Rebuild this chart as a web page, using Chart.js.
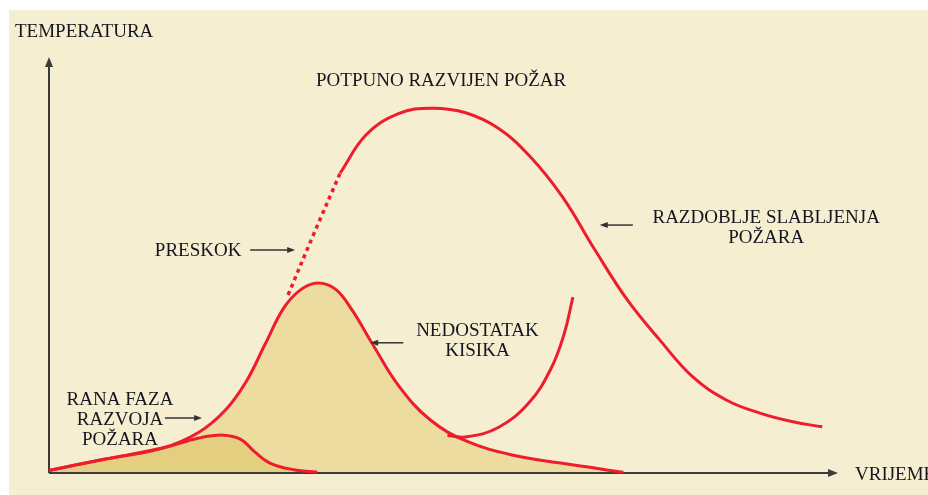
<!DOCTYPE html>
<html>
<head>
<meta charset="utf-8">
<script src="https://cdn.jsdelivr.net/npm/chart.js@4.4.1/dist/chart.umd.min.js"></script>
<style>
html, body { margin: 0; padding: 0; background: #fff; }
</style>
</head>
<body>
<canvas id="fire-chart" width="928" height="495"></canvas>
<script>
// vrijeme (0-100) / temperatura (0-100), schematic
var smallHumpTime = [0, 7, 14.4, 19.0, 22.1, 24.3, 26.0, 28.0, 31.0, 34.0];
var smallHumpTemp = [0.6, 3.3, 6.0, 8.4, 9.1, 8.1, 5.2, 2.4, 0.8, 0.2];

var humpTime = [0, 7, 14.4, 19.0, 22.3, 25.0, 27.4, 29.8, 32.0, 34.1, 36.3, 38.4, 41.0, 44.3, 48.3, 53.0, 59.0, 65.5, 72.8];
var humpTemp = [0.6, 3.3, 6.0, 9.8, 15.0, 22.0, 31.0, 39.8, 44.2, 45.7, 44.2, 39.2, 31.0, 21.0, 12.8, 7.6, 4.2, 2.2, 0.2];

var flashoverTime = [30.3, 33.5, 36.9];
var flashoverTemp = [42.8, 57.2, 72.1];

var fullFireTime = [36.9, 40.2, 44.3, 48.5, 52.8, 57.0, 61.0, 65.1, 69.2, 73.3, 77.4, 81.6, 85.9, 90.1, 94.3, 98.0];
var fullFireTemp = [72.1, 81.3, 86.4, 87.7, 86.6, 82.8, 76.0, 66.3, 53.6, 41.6, 32.0, 23.1, 17.5, 14.4, 12.3, 11.1];

var reigniteTime = [50.5, 53.0, 57.0, 60.8, 63.6, 65.3, 66.4];
var reigniteTemp = [9.0, 8.7, 11.0, 16.8, 25.0, 33.5, 42.3];

var labels = [
    { lines: ['POTPUNO RAZVIJEN POŽAR'], t: 49.7, T: 94.2 },
    { lines: ['RAZDOBLJE SLABLJENJA', 'POŽARA'], t: 90.9, T: 61.3 },
    { lines: ['PRESKOK'], t: 18.9, T: 53.4 },
    { lines: ['NEDOSTATAK', 'KISIKA'], t: 54.3, T: 34.1 },
    { lines: ['RANA FAZA', 'RAZVOJA', 'POŽARA'], t: 9.0, T: 17.5 }
];

var arrows = [
    { from: [74.0, 59.6], to: [69.8, 59.6] },
    { from: [25.5, 53.6], to: [31.2, 53.6] },
    { from: [44.9, 31.3], to: [40.7, 31.3] },
    { from: [14.7, 13.2], to: [19.4, 13.2] }
];

function points(xs, ys) {
    return xs.map(function (x, i) { return { x: x, y: ys[i] }; });
}

const red = '#ee1d2e';
const ink = '#15151f';
const font = '19px "Liberation Serif", "DejaVu Serif", serif';

function arrowHead(ctx, x, y, dx, dy, len, half) {
    ctx.beginPath();
    ctx.moveTo(x, y);
    ctx.lineTo(x - dx * len - dy * half, y - dy * len + dx * half);
    ctx.lineTo(x - dx * len + dy * half, y - dy * len - dx * half);
    ctx.closePath();
    ctx.fill();
}

const backdrop = {
    id: 'backdrop',
    beforeDraw(chart) {
        const ctx = chart.ctx;
        ctx.save();
        ctx.fillStyle = '#ffffff';
        ctx.fillRect(0, 0, chart.width, chart.height);
        ctx.fillStyle = '#f6eed0';
        ctx.fillRect(9, 10, chart.width - 9, chart.height - 10);
        ctx.restore();
    }
};

const axes = {
    id: 'axes',
    beforeDatasetsDraw(chart) {
        const ctx = chart.ctx;
        const a = chart.chartArea;
        ctx.save();
        ctx.strokeStyle = '#3b3b3b';
        ctx.fillStyle = '#3b3b3b';
        ctx.lineWidth = 2;
        ctx.beginPath();
        ctx.moveTo(a.left, a.bottom);
        ctx.lineTo(a.left, a.top + 6);
        ctx.moveTo(a.left, a.bottom);
        ctx.lineTo(a.right - 6, a.bottom);
        ctx.stroke();
        arrowHead(ctx, a.left, a.top, 0, -1, 10, 4);
        arrowHead(ctx, a.right, a.bottom, 1, 0, 10, 4);

        ctx.fillStyle = ink;
        ctx.font = font;
        ctx.textBaseline = 'middle';
        ctx.textAlign = 'left';
        ctx.fillText('TEMPERATURA', 15, 32);
        ctx.fillText('VRIJEME', 855, 475);
        ctx.restore();
    }
};

const notes = {
    id: 'notes',
    afterDatasetsDraw(chart) {
        const ctx = chart.ctx;
        const xs = chart.scales.x;
        const ys = chart.scales.y;
        ctx.save();
        ctx.fillStyle = ink;
        ctx.font = font;
        ctx.textAlign = 'center';
        ctx.textBaseline = 'middle';
        labels.forEach(function (l) {
            const x = xs.getPixelForValue(l.t);
            const y = ys.getPixelForValue(l.T);
            l.lines.forEach(function (s, i) {
                ctx.fillText(s, x, y + i * 20);
            });
        });
        ctx.strokeStyle = '#333333';
        ctx.fillStyle = '#333333';
        ctx.lineWidth = 1.5;
        arrows.forEach(function (a) {
            const x1 = xs.getPixelForValue(a.from[0]);
            const y1 = ys.getPixelForValue(a.from[1]);
            const x2 = xs.getPixelForValue(a.to[0]);
            const y2 = ys.getPixelForValue(a.to[1]);
            const d = Math.hypot(x2 - x1, y2 - y1);
            const dx = (x2 - x1) / d, dy = (y2 - y1) / d;
            ctx.beginPath();
            ctx.moveTo(x1, y1);
            ctx.lineTo(x2 - dx * 5, y2 - dy * 5);
            ctx.stroke();
            arrowHead(ctx, x2, y2, dx, dy, 8, 3);
        });
        ctx.restore();
    }
};

const ctx = document.getElementById('fire-chart');

new Chart(ctx, {
    type: 'line',
    data: {
        datasets: [{
            data: points(smallHumpTime, smallHumpTemp),
            borderColor: red,
            backgroundColor: '#e4ce7f',
            fill: 'origin'
        }, {
            data: points(humpTime, humpTemp),
            borderColor: red,
            backgroundColor: '#ecdc9f',
            fill: 'origin'
        }, {
            data: points(flashoverTime, flashoverTemp),
            borderColor: red,
            borderDash: [4, 4],
            borderWidth: 3.5,
            fill: false
        }, {
            data: points(fullFireTime, fullFireTemp),
            borderColor: red,
            fill: false
        }, {
            data: points(reigniteTime, reigniteTemp),
            borderColor: red,
            fill: false
        }]
    },
    options: {
        responsive: false,
        animation: false,
        devicePixelRatio: 1,
        layout: {
            padding: { left: 49, right: 90, top: 57, bottom: 22 }
        },
        elements: {
            line: {
                borderWidth: 3,
                tension: 0.4,
                capBezierPoints: false
            },
            point: {
                radius: 0
            }
        },
        datasets: {
            line: { clip: false }
        },
        plugins: {
            legend: { display: false },
            tooltip: { enabled: false },
            filler: { drawTime: 'beforeDatasetsDraw' }
        },
        scales: {
            x: { type: 'linear', min: 0, max: 100, display: false },
            y: { type: 'linear', min: 0, max: 100, display: false }
        }
    },
    plugins: [backdrop, axes, notes]
});
</script>
</body>
</html>
